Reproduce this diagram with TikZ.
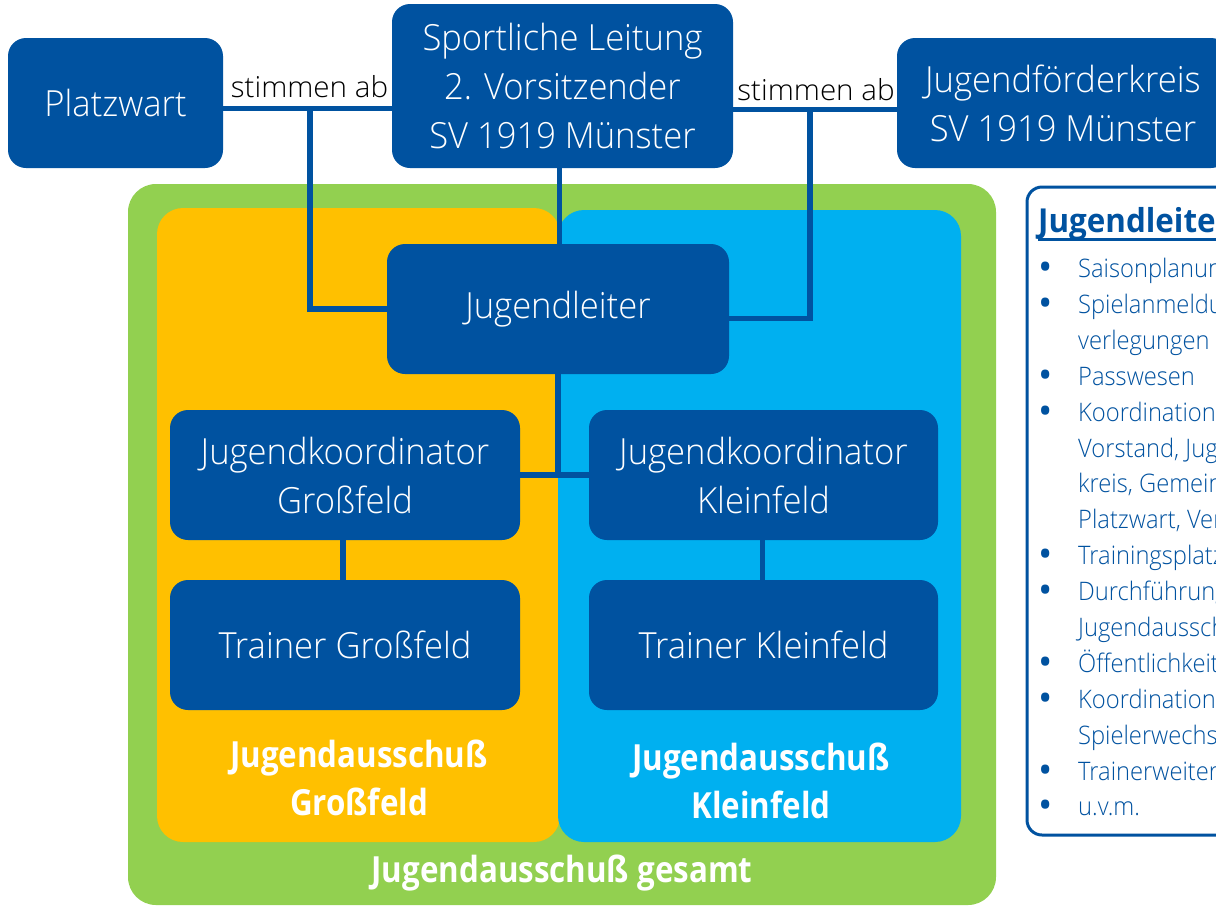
\documentclass[tikz,border=0pt]{standalone}
\usepackage{fontspec}
\setmainfont{Open Sans}
\newfontfamily\boxfont{Open Sans}[FakeStretch=0.96, UprightFont=* Light]
\newfontfamily\lblfont{Open Sans}[FakeStretch=0.87]
\newfontfamily\pnlfont{Open Sans}[FakeStretch=0.93, UprightFont=* Light]
\newfontfamily\stfont{Open Sans}[FakeStretch=1.02, UprightFont=* Light]
\newfontfamily\hdrfont{Open Sans}[FakeStretch=0.95]
\newfontfamily\bulfont{Open Sans}
\definecolor{dblue}{RGB}{0,82,160}
\definecolor{lgreen}{RGB}{146,208,80}
\definecolor{gold}{RGB}{255,192,0}
\definecolor{sky}{RGB}{0,176,240}
\tikzset{
  box/.style={fill=dblue, rounded corners=18pt, text=white, align=center,
    inner sep=0pt, font=\boxfont\fontsize{36}{49}\selectfont},
  conn/.style={draw=dblue, line width=5.5pt},
  lbl/.style={text=white, inner sep=0pt, anchor=base,
    font=\lblfont\bfseries\fontsize{36}{48}\selectfont},
  stim/.style={text=black, inner sep=0pt, anchor=base,
    font=\stfont\fontsize{29}{34}\selectfont},
  item/.style={text=dblue, inner sep=0pt, anchor=base west,
    font=\pnlfont\fontsize{25.5}{30}\selectfont},
  bul/.style={text=dblue, inner sep=0pt, anchor=base,
    font=\bulfont\fontsize{38}{40}\selectfont},
}
\begin{document}
\begin{tikzpicture}[x=1pt,y=-1pt]
\useasboundingbox (0,0) rectangle (1216,906);
\clip (0,0) rectangle (1216,906);
% background areas
\fill[lgreen, rounded corners=28pt] (128,184) rectangle (996,905);
\fill[gold, rounded corners=26pt] (157,208) rectangle (560,842);
\fill[sky, rounded corners=26pt] (558,210) rectangle (961,842);
% side panel
\draw[dblue, line width=3pt, rounded corners=15pt, fill=white] (1027,187) rectangle (1245,835);
% boxes
\node[box, minimum width=215pt, minimum height=130pt] (platz) at (115.5,103) {Platzwart};
\node[box, minimum width=341pt, minimum height=164pt] (sport) at (562.5,86) {Sportliche Leitung\\2. Vorsitzender\\SV 1919 Münster};
\node[box, minimum width=332pt, minimum height=130pt] (jf) at (1063,103) {Jugendförderkreis\\SV 1919 Münster};
\node[box, minimum width=342pt, minimum height=130pt] (jl) at (558,309) {Jugendleiter};
\node[box, minimum width=350pt, minimum height=130pt] (jkg) at (345,475) {Jugendkoordinator\\Großfeld};
\node[box, minimum width=349pt, minimum height=130pt] (jkk) at (763.5,475) {Jugendkoordinator\\Kleinfeld};
\node[box, minimum width=350pt, minimum height=130pt] (tg) at (345,645) {Trainer Großfeld};
\node[box, minimum width=349pt, minimum height=130pt] (tk) at (763.5,645) {Trainer Kleinfeld};
% labels
\node[stim] (st1) at (309.5,97) {stimmen ab};
\node[stim] (st2) at (816,100) {stimmen ab};
\node[lbl] (lg1) at (359,767) {Jugendausschuß};
\node[lbl] (lg2) at (359,815) {Großfeld};
\node[lbl] (lk1) at (761,770) {Jugendausschuß};
\node[lbl] (lk2) at (761,818) {Kleinfeld};
\node[lbl] (lges) at (562,882) {Jugendausschuß gesamt};
% connectors
\coordinate (yl) at (0,108.5);
\coordinate (yr) at (0,109.5);
\coordinate (tapL) at (310,108.5);
\coordinate (tapR) at (810,109.5);
\coordinate (vx) at (559.5,0);
\draw[conn] (platz.east |- yl) -- (sport.west |- yl);
\draw[conn] (sport.east |- yr) -- (jf.west |- yr);
\draw[conn] (jl.west) -| (tapL);
\draw[conn] ([yshift=-9.5pt]jl.east) -| (tapR);
\draw[conn] (sport.south -| vx) -- (jl.north -| vx);
\draw[conn] (jl.south) -- (jl.south |- jkg.east);
\draw[conn] (jkg.east) -- (jkk.west);
\draw[conn] ([xshift=-2pt]jkg.south) -- ([xshift=-2pt]tg.north);
\draw[conn] ([xshift=-1pt]jkk.south) -- ([xshift=-1pt]tk.north);
% panel text
\node[text=dblue, inner sep=0pt, anchor=base west, font=\hdrfont\bfseries\fontsize{33}{40}\selectfont] (hdr) at (1038,232) {Jugendleiter-Aufgaben};
\draw[dblue, line width=3pt] (1038,239) -- (1245,239);
\node[bul] (b0) at (1046,280) {•};
\node[item] (p0) at (1078,277) {Saisonplanung};
\node[bul] (b1) at (1046,316) {•};
\node[item] (p1) at (1078,313) {Spielanmeldungen und -};
\node[item] (p2) at (1078,349) {verlegungen};
\node[bul] (b3) at (1046,388) {•};
\node[item] (p3) at (1078,385) {Passwesen};
\node[bul] (b4) at (1046,424) {•};
\node[item] (p4) at (1078,421) {Koordination zwischen};
\node[item] (p5) at (1078,457) {Vorstand, Jugendförder-};
\node[item] (p6) at (1078,492) {kreis, Gemeinde,};
\node[item] (p7) at (1078,528) {Platzwart, Verband};
\node[bul] (b8) at (1046,567) {•};
\node[item] (p8) at (1078,564) {Trainingsplatzbelegung};
\node[bul] (b9) at (1046,603) {•};
\node[item] (p9) at (1078,600) {Durchführung der};
\node[item] (p10) at (1078,636) {Jugendausschusssitzungen};
\node[bul] (b11) at (1046,675) {•};
\node[item] (p11) at (1078,672) {Öffentlichkeitsarbeit};
\node[bul] (b12) at (1046,711) {•};
\node[item] (p12) at (1078,708) {Koordination der};
\node[item] (p13) at (1078,744) {Spielerwechsel};
\node[bul] (b14) at (1046,783) {•};
\node[item] (p14) at (1078,780) {Trainerweiterbildung};
\node[bul] (b15) at (1046,818) {•};
\node[item] (p15) at (1078,815) {u.v.m.};
\end{tikzpicture}
\end{document}
